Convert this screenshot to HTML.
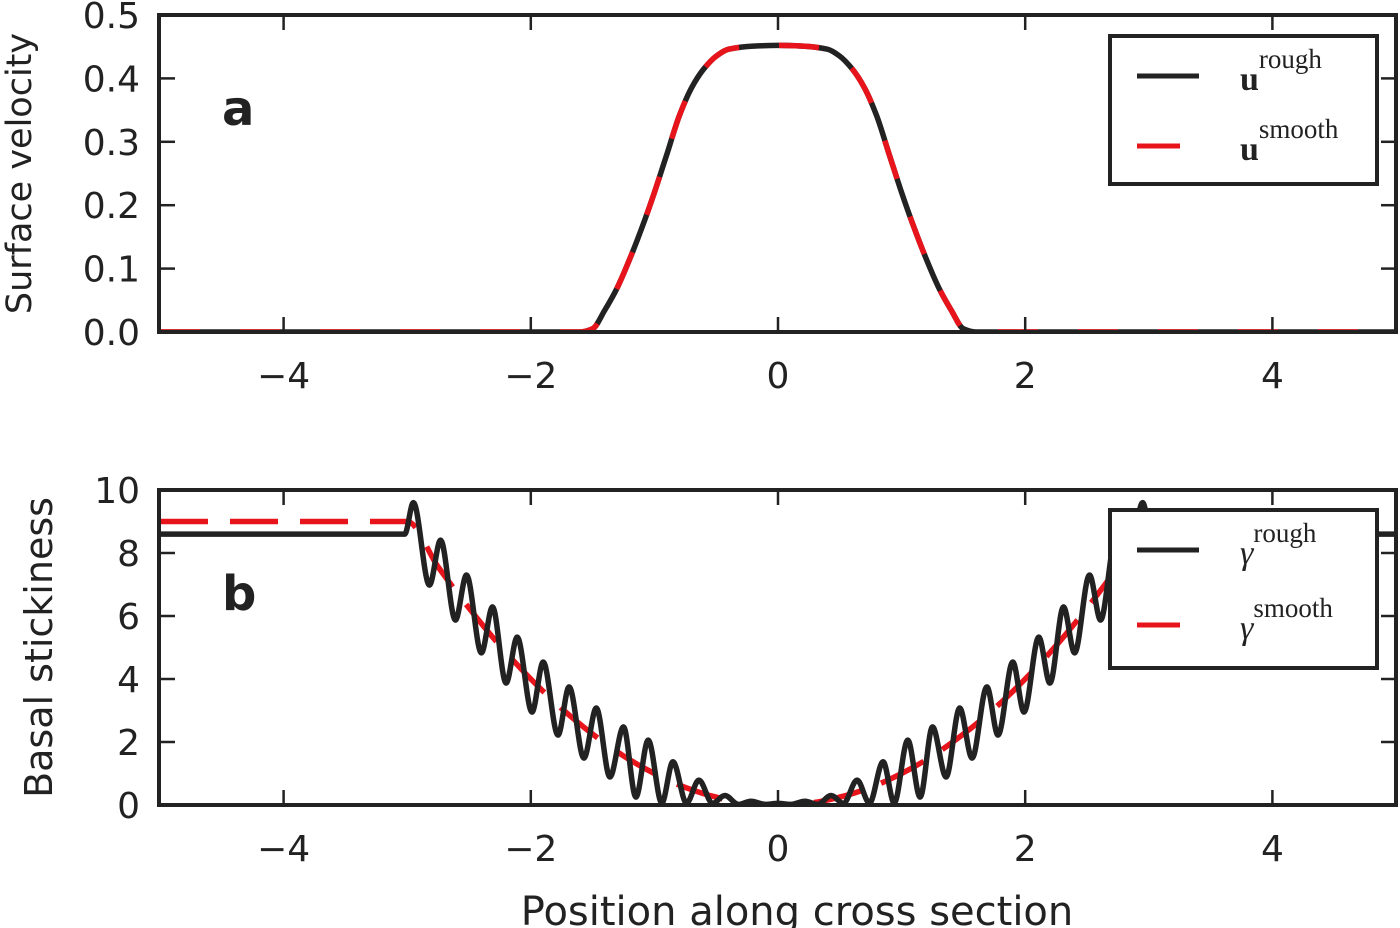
<!DOCTYPE html>
<html><head><meta charset="utf-8">
<style>
html,body{margin:0;padding:0;background:#fff;}
svg{display:block;font-family:"DejaVu Sans","Liberation Sans",sans-serif;}
</style></head>
<body>
<svg id="chart" width="1400" height="928" viewBox="0 0 1400 928" xmlns="http://www.w3.org/2000/svg">
<g id="pa"></g>
<g id="pb"></g>
</svg>
<script>
// ---- Panel a data ----
const uX = [-5,-1.7,-1.6,-1.5,-1.4,-1.3,-1.2,-1.1,-1.0,-0.9,-0.8,-0.7,-0.6,-0.5,-0.4,-0.2,0,0.2,0.4,0.5,0.6,0.7,0.8,0.9,1.0,1.1,1.2,1.3,1.4,1.5,1.6,1.7,5];
const uRough = [0,0,0.0,0.005,0.035,0.07,0.115,0.165,0.22,0.28,0.34,0.385,0.415,0.435,0.446,0.451,0.452,0.451,0.446,0.435,0.415,0.385,0.34,0.28,0.22,0.165,0.115,0.07,0.035,0.005,0.0,0,0];
const uSmooth = uRough.slice();
const aYTicks = [0.0,0.1,0.2,0.3,0.4,0.5];
const aYLabels = ["0.0","0.1","0.2","0.3","0.4","0.5"];
const xTicks = [-4,-2,0,2,4];
const xLabels = ["\u22124","\u22122","0","2","4"];
// ---- Panel b data ----
const gSmoothX = [-5,-3,-2.75,-2.5,-2.25,-2,-1.75,-1.5,-1.25,-1,-0.75,-0.5,-0.25,0,0.25,0.5,0.75,1,1.25,1.5,1.75,2,2.25,2.5,2.75,3,5];
const gSmooth = [9,9,7.56,6.25,5.06,4,3.06,2.25,1.56,1,0.56,0.25,0.06,0,0.06,0.25,0.56,1,1.56,2.25,3.06,4,5.06,6.25,7.56,9,9];
const gRoughX = [-5,-3.02,-2.95,-2.82,-2.73,-2.61,-2.52,-2.40,-2.31,-2.20,-2.11,-1.99,-1.90,-1.78,-1.69,-1.57,-1.47,-1.36,-1.25,-1.15,-1.05,-0.94,-0.85,-0.74,-0.64,-0.53,-0.43,-0.32,-0.22,-0.1,0,0.1,0.22,0.32,0.43,0.53,0.64,0.74,0.85,0.94,1.05,1.15,1.25,1.36,1.47,1.57,1.69,1.78,1.90,1.99,2.11,2.20,2.31,2.40,2.52,2.61,2.73,2.82,2.95,3.02,5];
const gRough = [8.6,8.6,9.6,6.98,8.41,5.87,7.3,4.83,6.29,3.87,5.33,2.95,4.54,2.22,3.75,1.49,3.08,0.89,2.48,0.25,2.06,0.06,1.37,0.06,0.79,0.05,0.3,0.02,0.12,0.02,0.05,0.02,0.12,0.02,0.3,0.05,0.79,0.06,1.37,0.06,2.06,0.25,2.48,0.89,3.08,1.49,3.75,2.22,4.54,2.95,5.33,3.87,6.29,4.83,7.3,5.87,8.41,6.98,9.6,8.6,8.6];
const bYTicks = [0,2,4,6,8,10];
const bYLabels = ["0","2","4","6","8","10"];

const NS="http://www.w3.org/2000/svg";
function mk(tag, attrs, parent){const e=document.createElementNS(NS,tag);for(const k in attrs)e.setAttribute(k,attrs[k]);parent.appendChild(e);return e;}
const X0=160, X1=1396;
function sx(v){return X0+(v+5)/10*(X1-X0);}
function monoPath(pts){
  const n=pts.length, d=[], m=[];
  for(let i=0;i<n-1;i++){const dx=pts[i+1][0]-pts[i][0];d.push(dx===0?0:(pts[i+1][1]-pts[i][1])/dx);}
  m[0]=d[0];m[n-1]=d[n-2];
  for(let i=1;i<n-1;i++){m[i]=(d[i-1]*d[i]<=0)?0:2/(1/d[i-1]+1/d[i]);}
  let s="M"+pts[0][0].toFixed(1)+","+pts[0][1].toFixed(1);
  for(let i=0;i<n-1;i++){
    const h=pts[i+1][0]-pts[i][0];
    s+=" C"+(pts[i][0]+h/3).toFixed(1)+","+(pts[i][1]+m[i]*h/3).toFixed(1)+" "+(pts[i+1][0]-h/3).toFixed(1)+","+(pts[i+1][1]-m[i+1]*h/3).toFixed(1)+" "+pts[i+1][0].toFixed(1)+","+pts[i+1][1].toFixed(1);
  }
  return s;
}
function panel(g, top, bot, ymin, ymax, yT, yL, series, label, labelY, yTitle, yTitleX, yTitleSize, legend, legendY){
  const sy=v=>bot-(v-ymin)/(ymax-ymin)*(bot-top);
  const clip=mk('clipPath',{id:'c'+top},g);
  mk('rect',{x:X0,y:top,width:X1-X0,height:bot-top},clip);
  series.forEach(s=>{
    const pts=s.x.map((xv,i)=>[sx(xv),sy(s.y[i])]);
    const p=mk('path',{d:monoPath(pts),fill:'none',stroke:s.color,'stroke-width':5.5,'stroke-linejoin':'round','stroke-dasharray':s.dash||'none','clip-path':'url(#c'+top+')'},g);
    
    
  });
  xTicks.forEach((t,i)=>{
    const x=sx(t);
    mk('line',{x1:x,y1:top,x2:x,y2:top+15,stroke:'#222','stroke-width':2.5},g);
    mk('line',{x1:x,y1:bot,x2:x,y2:bot-15,stroke:'#222','stroke-width':2.5},g);
    const tx=mk('text',{x:x,y:bot+56,'text-anchor':'middle','font-size':36,fill:'#222'},g);
    tx.textContent=xLabels[i];
    
    
  });
  yT.forEach((t,i)=>{
    const y=sy(t);
    mk('line',{x1:X0,y1:y,x2:X0+15,y2:y,stroke:'#222','stroke-width':2.5},g);
    mk('line',{x1:X1,y1:y,x2:X1-15,y2:y,stroke:'#222','stroke-width':2.5},g);
    const tx=mk('text',{x:140,y:y+13,'text-anchor':'end','font-size':36,fill:'#222'},g);
    tx.textContent=yL[i];
    
    
  });
  mk('rect',{x:X0-1,y:top,width:X1-X0+1,height:bot-top,fill:'none',stroke:'#222','stroke-width':4},g);
  const lt=mk('text',{x:222,y:labelY,'font-size':48,'font-weight':'bold',fill:'#222'},g);
  lt.textContent=label;
  
  
  const cy=(top+bot)/2;
  const yt=mk('text',{x:yTitleX,y:cy,'text-anchor':'middle','font-size':yTitleSize,fill:'#222',transform:'rotate(-90 '+yTitleX+' '+cy+')'},g);
  yt.textContent=yTitle;
  
  
  const lg=mk('g',{},g);
  
  
  mk('rect',{x:1110,y:legendY,width:267,height:legend.h,fill:'#fff',stroke:'#222','stroke-width':4},lg);
  legend.items.forEach((it,i)=>{
    const yy=legendY+legend.off+i*legend.step;
    mk('line',{x1:1137,y1:yy,x2:it.dash?1180:1199,y2:yy,stroke:it.color,'stroke-width':5},lg);
    const t=mk('text',{x:1240,y:yy+14,'font-family':'"Liberation Serif",serif','font-size':34,fill:'#222','font-weight':it.bold?'bold':'normal','font-style':it.bold?'normal':'italic'},lg);
    t.textContent=it.sym;
    const s=mk('tspan',{dy:-22,'font-size':27,'font-weight':'normal','font-style':'normal'},t);
    s.textContent=it.sup;
    
    
  });
}
panel(document.getElementById('pa'),15,332,0,0.5,aYTicks,aYLabels,[
  {x:uX,y:uRough,color:'#222',name:'u-rough-line'},
  {x:uX,y:uSmooth,color:'#e8141c',dash:'40,40',name:'u-smooth-line'}
],'a',125,'Surface velocity',31,35,{h:148,off:40,step:70,items:[
  {color:'#222',sym:'u',sup:'rough',bold:true},{color:'#e8141c',dash:true,sym:'u',sup:'smooth',bold:true}]},36);
panel(document.getElementById('pb'),490,805,0,10,bYTicks,bYLabels,[
  {x:gSmoothX,y:gSmooth,color:'#e8141c',dash:'48,22',name:'gamma-smooth-line'},
  {x:gRoughX,y:gRough,color:'#222',name:'gamma-rough-line'}
],'b',610,'Basal stickiness',52,38,{h:158,off:40,step:75,items:[
  {color:'#222',sym:'\u03b3',sup:'rough'},{color:'#e8141c',dash:true,sym:'\u03b3',sup:'smooth'}]},510);
const xt=mk('text',{x:797,y:925,'text-anchor':'middle','font-size':40,fill:'#222'},document.getElementById('chart'));
xt.textContent='Position along cross section';


</script>
</body></html>
